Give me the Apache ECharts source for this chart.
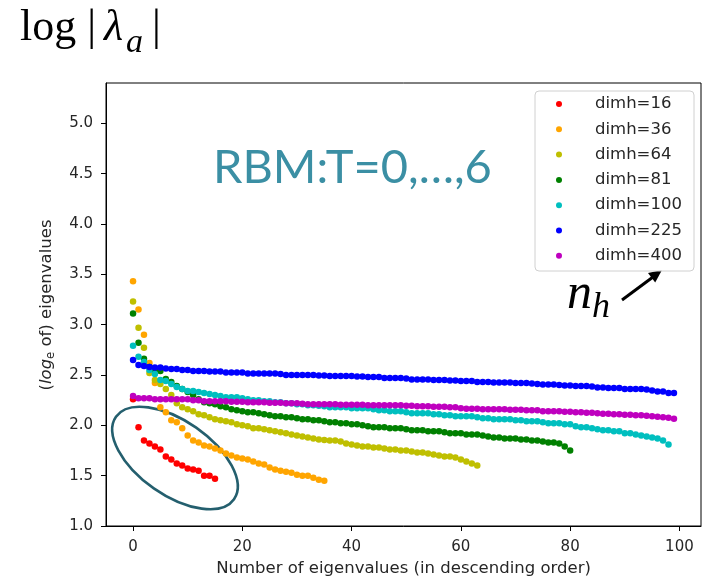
<!DOCTYPE html>
<html>
<head>
<meta charset="utf-8">
<script src="https://cdn.jsdelivr.net/npm/echarts@6/dist/echarts.min.js"></script>
<style>
  html, body { margin: 0; padding: 0; background: #ffffff; }
  #chart { width: 704px; height: 576px; }
</style>
</head>
<body>
<div id="chart"></div>
<script>
// Leading eigenvalues (natural log), sorted in descending order, one list per hidden size
const seriesNames = ['dimh=16', 'dimh=36', 'dimh=64', 'dimh=81', 'dimh=100', 'dimh=225', 'dimh=400'];
const seriesColors = ['#ff0000', '#ffa500', '#bfbf00', '#008000', '#00bfbf', '#0000ff', '#bf00bf'];

const dimh16 = [2.26, 1.98, 1.85, 1.82, 1.79, 1.76, 1.69, 1.66, 1.62, 1.60, 1.57, 1.56, 1.55, 1.50, 1.50, 1.47];

const dimh36 = [3.43, 3.15, 2.90, 2.62, 2.42, 2.18, 2.13, 2.05, 2.03, 1.97,
                1.90, 1.85, 1.83, 1.80, 1.79, 1.77, 1.75, 1.72, 1.70, 1.68,
                1.67, 1.66, 1.64, 1.62, 1.61, 1.58, 1.56, 1.55, 1.54, 1.53,
                1.51, 1.50, 1.50, 1.48, 1.46, 1.45];

const dimh64 = [3.23, 2.97, 2.77, 2.52, 2.45, 2.41, 2.36, 2.30, 2.22, 2.18,
                2.16, 2.14, 2.11, 2.10, 2.08, 2.06, 2.05, 2.04, 2.03, 2.01,
                2.00, 1.99, 1.97, 1.97, 1.96, 1.95, 1.94, 1.93, 1.92, 1.91,
                1.90, 1.89, 1.88, 1.87, 1.86, 1.855, 1.85, 1.85, 1.84, 1.82,
                1.81, 1.80, 1.79, 1.79, 1.78, 1.78, 1.77, 1.76, 1.76, 1.75,
                1.75, 1.74, 1.73, 1.73, 1.72, 1.71, 1.70, 1.69, 1.69, 1.68,
                1.66, 1.64, 1.62, 1.60];

const dimh81 = [3.11, 2.82, 2.66, 2.58, 2.55, 2.54, 2.46, 2.43, 2.39, 2.36,
                2.33, 2.30, 2.26, 2.23, 2.22, 2.21, 2.19, 2.18, 2.16, 2.15,
                2.14, 2.13, 2.13, 2.12, 2.11, 2.10, 2.09, 2.09, 2.08, 2.08,
                2.07, 2.06, 2.06, 2.05, 2.05, 2.04, 2.03, 2.03, 2.02, 2.02,
                2.01, 2.01, 2.00, 1.99, 1.98, 1.98, 1.98, 1.97, 1.97, 1.97,
                1.96, 1.95, 1.95, 1.95, 1.94, 1.94, 1.94, 1.93, 1.92, 1.92,
                1.92, 1.91, 1.91, 1.91, 1.90, 1.89, 1.88, 1.88, 1.87, 1.87,
                1.87, 1.86, 1.86, 1.85, 1.85, 1.84, 1.83, 1.83, 1.82, 1.79,
                1.75];

const dimh100 = [2.79, 2.68, 2.63, 2.55, 2.51, 2.45, 2.44, 2.41, 2.38, 2.36,
                 2.34, 2.34, 2.33, 2.32, 2.31, 2.30, 2.29, 2.28, 2.28, 2.28,
                 2.27, 2.26, 2.25, 2.25, 2.24, 2.24, 2.23, 2.23, 2.22, 2.22,
                 2.21, 2.21, 2.20, 2.20, 2.195, 2.19, 2.18, 2.18, 2.18, 2.18,
                 2.17, 2.17, 2.17, 2.17, 2.16, 2.15, 2.15, 2.14, 2.14, 2.14,
                 2.13, 2.12, 2.12, 2.12, 2.12, 2.11, 2.11, 2.10, 2.10, 2.09,
                 2.09, 2.09, 2.09, 2.08, 2.07, 2.07, 2.06, 2.06, 2.06, 2.06,
                 2.05, 2.05, 2.04, 2.04, 2.04, 2.03, 2.02, 2.02, 2.02, 2.01,
                 2.01, 1.99, 1.98, 1.98, 1.97, 1.96, 1.95, 1.95, 1.94, 1.94,
                 1.92, 1.92, 1.91, 1.90, 1.89, 1.88, 1.87, 1.85, 1.81];

const dimh225 = [2.65, 2.60, 2.59, 2.58, 2.575, 2.575, 2.565, 2.56, 2.56, 2.55,
                 2.55, 2.54, 2.54, 2.54, 2.535, 2.535, 2.535, 2.525, 2.525, 2.525,
                 2.525, 2.515, 2.515, 2.515, 2.515, 2.515, 2.515, 2.51, 2.50, 2.50,
                 2.50, 2.50, 2.50, 2.50, 2.495, 2.495, 2.49, 2.49, 2.49, 2.49,
                 2.49, 2.485, 2.485, 2.48, 2.48, 2.48, 2.47, 2.47, 2.47, 2.47,
                 2.465, 2.455, 2.455, 2.455, 2.455, 2.45, 2.45, 2.45, 2.445, 2.445,
                 2.44, 2.44, 2.44, 2.43, 2.43, 2.43, 2.425, 2.425, 2.425, 2.425,
                 2.42, 2.42, 2.42, 2.415, 2.41, 2.405, 2.405, 2.405, 2.40, 2.395,
                 2.395, 2.39, 2.39, 2.39, 2.385, 2.375, 2.375, 2.37, 2.37, 2.37,
                 2.36, 2.36, 2.36, 2.36, 2.355, 2.345, 2.335, 2.335, 2.32, 2.32];

const dimh400 = [2.29, 2.27, 2.27, 2.27, 2.26, 2.26, 2.26, 2.26, 2.26, 2.26,
                 2.26, 2.25, 2.25, 2.24, 2.24, 2.24, 2.24, 2.24, 2.235, 2.235,
                 2.235, 2.23, 2.23, 2.23, 2.23, 2.225, 2.225, 2.225, 2.22, 2.22,
                 2.22, 2.215, 2.21, 2.21, 2.21, 2.21, 2.21, 2.21, 2.205, 2.205,
                 2.205, 2.205, 2.205, 2.20, 2.20, 2.20, 2.20, 2.20, 2.20, 2.20,
                 2.195, 2.195, 2.19, 2.19, 2.19, 2.185, 2.185, 2.185, 2.18, 2.18,
                 2.17, 2.165, 2.165, 2.165, 2.16, 2.16, 2.16, 2.16, 2.16, 2.155,
                 2.155, 2.155, 2.15, 2.15, 2.15, 2.14, 2.14, 2.14, 2.14, 2.135,
                 2.135, 2.13, 2.13, 2.125, 2.125, 2.12, 2.115, 2.115, 2.11, 2.11,
                 2.105, 2.105, 2.10, 2.10, 2.095, 2.09, 2.085, 2.08, 2.075, 2.065];

const seriesValues = [dimh16, dimh36, dimh64, dimh81, dimh100, dimh225, dimh400];

const xTicks = [0, 20, 40, 60, 80, 100];
const yTicks = [1.0, 1.5, 2.0, 2.5, 3.0, 3.5, 4.0, 4.5, 5.0];

const chart = echarts.init(document.getElementById('chart'), null, { renderer: 'canvas' });

const tickColor = '#262626';
const sansFont = 'DejaVu Sans';
const serifFont = 'Liberation Serif';

const series = seriesValues.map((vals, k) => ({
  name: seriesNames[k],
  type: 'scatter',
  symbol: 'circle',
  symbolSize: 6.5,
  itemStyle: { color: seriesColors[k], opacity: 1 },
  emphasis: { disabled: true },
  data: vals.map((v, i) => [i, v])
}));

chart.setOption({
  animation: false,
  backgroundColor: '#ffffff',
  grid: {
    left: 106, right: 3, top: 83, bottom: 50,
    outerBoundsMode: 'none',
    containLabel: false,
    show: true, borderColor: '#000000', borderWidth: 1, backgroundColor: 'transparent'
  },
  xAxis: {
    type: 'value',
    min: -4.95,
    max: 103.95,
    axisLine: { show: true, onZero: false, lineStyle: { color: '#000000', width: 1 } },
    axisTick: { show: true, length: 5, customValues: xTicks, lineStyle: { color: '#000000' } },
    axisLabel: { customValues: xTicks, margin: 14, color: tickColor, fontFamily: sansFont, fontSize: 15 },
    splitLine: { show: false },
    name: 'Number of eigenvalues (in descending order)',
    nameLocation: 'middle',
    nameGap: 32,
    nameTextStyle: { color: tickColor, fontFamily: sansFont, fontSize: 16.5 }
  },
  yAxis: {
    type: 'value',
    min: 1.0,
    max: 5.4,
    axisLine: { show: true, onZero: false, lineStyle: { color: '#000000', width: 1 } },
    axisTick: { show: true, length: 5, customValues: yTicks, lineStyle: { color: '#000000' } },
    axisLabel: {
      customValues: yTicks, margin: 13, color: tickColor, fontFamily: sansFont, fontSize: 15,
      formatter: v => Number(v).toFixed(1)
    },
    splitLine: { show: false }
  },
  legend: {
    data: seriesNames,
    orient: 'vertical',
    left: 535,
    top: 91,
    icon: 'circle',
    itemWidth: 6,
    itemHeight: 6,
    itemGap: 7.3,
    padding: [4, 0, 5, 21],
    backgroundColor: 'transparent',
    borderWidth: 0,
    selectedMode: false,
    textStyle: {
      color: tickColor, fontFamily: sansFont, fontSize: 16.5, lineHeight: 18,
      padding: [0, 0, 0, 28]
    }
  },
  series: series,
  graphic: [
    {
      // legend frame
      type: 'rect',
      z: 3,
      shape: { x: 535, y: 91, width: 159, height: 180, r: 4 },
      style: { fill: 'rgba(255,255,255,0.8)', stroke: '#d0d0d0', lineWidth: 1 }
    },
    {
      // heading: log |λ_a|
      type: 'text',
      left: 20,
      top: 6,
      style: {
        text: '{n|log |}{i|λ}{s|a}{n||}',
        rich: {
          n: { fontFamily: serifFont, fontSize: 44, verticalAlign: 'top', fill: '#000' },
          i: { fontFamily: serifFont, fontStyle: 'italic', fontSize: 44, verticalAlign: 'top', fill: '#000', padding: [0, 0, 0, 8] },
          s: { fontFamily: serifFont, fontStyle: 'italic', fontSize: 34, verticalAlign: 'top', fill: '#000', padding: [20, 9, 0, 3] }
        }
      }
    },
    {
      type: 'text',
      left: 213,
      top: 144,
      style: {
        text: 'RBM:T=0,…,6',
        fontFamily: 'Lato',
        fontSize: 47,
        fill: '#3b8fa4'
      }
    },
    {
      // n_h annotation pointing at the legend
      type: 'text',
      left: 567,
      top: 270,
      style: {
        text: '{n|n}{h|h}',
        rich: {
          n: { fontFamily: serifFont, fontStyle: 'italic', fontSize: 50, verticalAlign: 'top', fill: '#000' },
          h: { fontFamily: serifFont, fontStyle: 'italic', fontSize: 36, verticalAlign: 'top', fill: '#000', padding: [19.8, 0, 0, 0] }
        }
      }
    },
    {
      type: 'line',
      shape: { x1: 622, y1: 300, x2: 653, y2: 277 },
      style: { stroke: '#000', lineWidth: 3 }
    },
    {
      type: 'polygon',
      shape: { points: [[662, 270], [655.2, 282.6], [648.0, 273.0]] },
      style: { fill: '#000' }
    },
    {
      // outline around the dimh=16 points
      type: 'ellipse',
      x: 175, y: 458,
      rotation: -0.61,
      shape: { cx: 0, cy: 0, rx: 72, ry: 37 },
      style: { fill: 'none', stroke: '#245f6e', lineWidth: 2.6 }
    },
    {
      // y-axis title with subscripted log base
      type: 'text',
      x: 48,
      y: 305,
      rotation: Math.PI / 2,
      style: {
        text: '{r|(}{it|log}{sb|e}{r| of) eigenvalues}',
        align: 'center',
        verticalAlign: 'middle',
        rich: {
          r: { fontFamily: sansFont, fontSize: 16.5, verticalAlign: 'top', fill: tickColor },
          it: { fontFamily: sansFont, fontStyle: 'italic', fontSize: 16.5, verticalAlign: 'top', fill: tickColor },
          sb: { fontFamily: sansFont, fontSize: 11.5, verticalAlign: 'top', fill: tickColor, padding: [6.75, 0, 0, 0] }
        }
      }
    }
  ]
});
</script>
</body>
</html>
